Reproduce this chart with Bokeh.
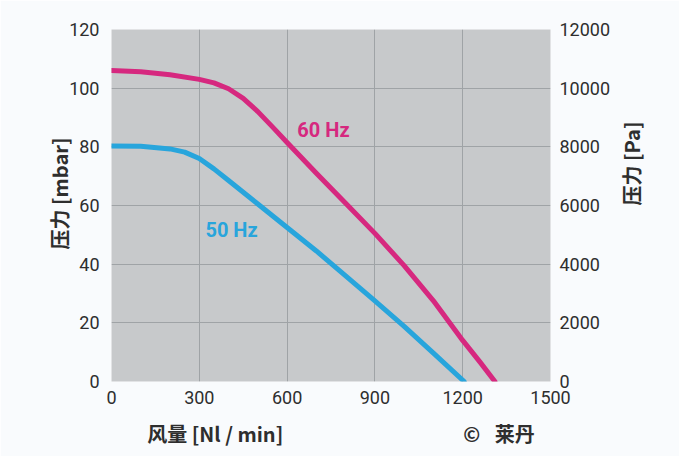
import math
from bokeh.plotting import figure
from bokeh.models import Range1d, LinearAxis, Label, FixedTicker
from bokeh.embed import file_html
from bokeh.resources import INLINE

# data
flow_60 = [0, 100, 200, 300, 350, 400, 450, 500, 550, 600, 700, 800, 900, 1000, 1100, 1200, 1260, 1310]
press_60 = [106, 105.6, 104.6, 103, 101.8, 99.8, 96.5, 92, 86.8, 81.5, 71, 60.8, 50.5, 39.5, 27.5, 14, 6.5, 0]
flow_50 = [0, 100, 200, 250, 300, 350, 400, 500, 600, 700, 800, 900, 1000, 1100, 1205]
press_50 = [80.3, 80.2, 79.3, 78.2, 76, 72.5, 68.5, 60.5, 52.5, 44.5, 36, 27.5, 18.8, 9.7, 0]
x_ticks = [0, 300, 600, 900, 1200, 1500]
y_ticks = [0, 20, 40, 60, 80, 100, 120]
pa_ticks = [0, 2000, 4000, 6000, 8000, 10000, 12000]
x_title = "风量 [Nl / min]"
credit = "© \u2002莱丹"
left_title = "压力 [mbar]"
right_title = "压力 [Pa]"

PINK = "#d6287f"
BLUE = "#28a5dc"
TXT = "#2e2e2e"
TICK_FONT = "Roboto"
CJK = "Noto Sans CJK SC"

p = figure(width=679, height=456, output_backend="svg", toolbar_location=None,
           x_range=Range1d(0, 1500), y_range=Range1d(0, 120),
           min_border_left=111, min_border_right=129, min_border_top=29, min_border_bottom=75)
p.extra_y_ranges = {"pa": Range1d(0, 12000)}
p.background_fill_color = "#c7c9cb"
p.border_fill_color = "#f9fbfd"
p.outline_line_color = None

p.xgrid.ticker = FixedTicker(ticks=x_ticks[1:-1])
p.ygrid.ticker = FixedTicker(ticks=y_ticks[1:-1])
p.grid.grid_line_color = "#9fa3a6"
p.grid.grid_line_width = 1

ax_r = LinearAxis(y_range_name="pa", ticker=FixedTicker(ticks=pa_ticks))
p.add_layout(ax_r, "right")
# second right axis carries only the title (bounds move the title's anchor)
ax_t = LinearAxis(y_range_name="pa", ticker=FixedTicker(ticks=[]), bounds=(0, 9960))
p.add_layout(ax_t, "right")

for ax in [p.xaxis[0], p.yaxis[0], ax_r, ax_t]:
    ax.axis_line_color = None
    ax.major_tick_line_color = None
    ax.minor_tick_line_color = None
    ax.major_label_text_font = TICK_FONT
    ax.major_label_text_font_size = "18px"
    ax.major_label_text_color = TXT
    ax.axis_label_text_font = CJK
    ax.axis_label_text_font_size = "20px"
    ax.axis_label_text_font_style = "bold"
    ax.axis_label_text_color = TXT
p.xaxis[0].ticker = FixedTicker(ticks=x_ticks)
p.yaxis[0].ticker = FixedTicker(ticks=y_ticks)
p.xaxis[0].major_label_standoff = 3
p.yaxis[0].major_label_standoff = 6
ax_r.major_label_standoff = 3
ax_t.major_label_standoff = 0
ax_t.major_tick_out = 0
ax_t.major_tick_in = 0

p.yaxis[0].axis_label = "\u2003\u2009" + left_title
p.yaxis[0].axis_label_standoff = -8
ax_t.axis_label = right_title
ax_t.axis_label_standoff = 18
ax_t.axis_label_orientation = math.pi / 2
# axis title and credit share the line below the axis
p.xaxis[0].axis_label = "\u2003" + x_title + "\u2003" * 9 + credit
p.xaxis[0].axis_label_standoff = 12

p.line(flow_60, press_60, line_color=PINK, line_width=5, line_join="round", line_cap="round")
p.line(flow_50, press_50, line_color=BLUE, line_width=5, line_join="round", line_cap="round")

p.add_layout(Label(x=635, y=85.6, text="60 Hz", text_color=PINK, text_font=TICK_FONT,
                   text_font_size="20px", text_font_style="bold", text_baseline="middle"))
p.add_layout(Label(x=321, y=51.6, text="50 Hz", text_color=BLUE, text_font=TICK_FONT,
                   text_font_size="20px", text_font_style="bold", text_baseline="middle"))

open("out.html", "w").write(file_html(p, INLINE))
